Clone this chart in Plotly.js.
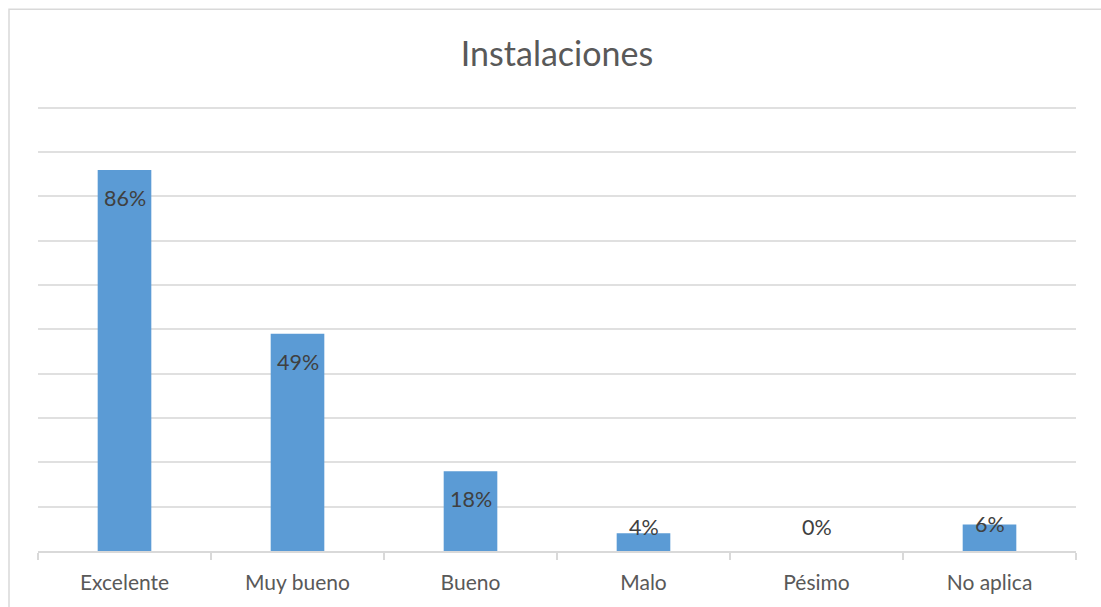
<!DOCTYPE html>
<html>
<head>
<meta charset="utf-8">
<script src="https://cdn.plot.ly/plotly-3.0.1.min.js"></script>
<style>
  html, body { margin: 0; padding: 0; background: #ffffff; }
  #chart { width: 1101px; height: 607px; }
</style>
</head>
<body>
<div id="chart"></div>
<script>
const categories = ["Excelente", "Muy bueno", "Bueno", "Malo", "Pésimo", "No aplica"];
const values = [0.86, 0.49, 0.18, 0.04, 0.00, 0.06];
const valueLabels = ["86%", "49%", "18%", "4%", "0%", "6%"];
const chartTitle = "Instalaciones";

const FONT = "Lato, 'Liberation Sans', sans-serif";

const bars = {
  type: "bar",
  x: categories,
  y: values,
  marker: { color: "#5B9BD5", line: { width: 0 } },
  hoverinfo: "skip"
};

const annotations = categories.map((c, i) => {
  const v = values[i];
  const big = v >= 0.1;
  return {
    x: c, xref: "x",
    y: big ? v : Math.max(v, 0.054), yref: "y",
    yshift: big ? -28 : 0,
    text: valueLabels[i],
    showarrow: false,
    xanchor: "center", yanchor: "middle",
    font: { family: FONT, size: 21.5, color: "#404040" }
  };
});

const YTOP = 1.02;
const layout = {
  width: 1101, height: 607,
  margin: { l: 38, r: 25, t: 551 - 443 * YTOP, b: 56 },
  paper_bgcolor: "#ffffff",
  plot_bgcolor: "#ffffff",
  showlegend: false,
  bargap: 0.69,
  title: {
    text: chartTitle,
    x: 0.5, xref: "paper", xanchor: "center",
    y: 1 - 54 / 607, yref: "container", yanchor: "middle",
    font: { family: FONT, size: 34, color: "#595959" }
  },
  xaxis: {
    type: "category",
    showgrid: false,
    showline: true, linecolor: "#D9D9D9", linewidth: 2,
    ticks: "outside", tickson: "boundaries", ticklen: 7, tickcolor: "#D9D9D9", tickwidth: 2,
    ticklabelstandoff: 12,
    tickfont: { family: FONT, size: 21, color: "#595959" },
    fixedrange: true
  },
  yaxis: {
    range: [0, YTOP],
    dtick: 0.1, tick0: 0,
    showticklabels: false,
    ticks: "",
    showgrid: true, gridcolor: "#E0E0E0", gridwidth: 2,
    zeroline: false,
    showline: false,
    fixedrange: true
  },
  annotations: annotations,
  shapes: [{
    type: "rect", xref: "paper", yref: "paper",
    x0: (9 - 38) / 1038, x1: (1110 - 38) / 1038,
    y0: -0.3, y1: (551 - 9.5) / (443 * YTOP),
    line: { color: "#D9D9D9", width: 1.5 },
    fillcolor: "rgba(0,0,0,0)",
    layer: "below"
  }]
};

Plotly.newPlot("chart", [bars], layout, { displayModeBar: false, staticPlot: true });
</script>
</body>
</html>
